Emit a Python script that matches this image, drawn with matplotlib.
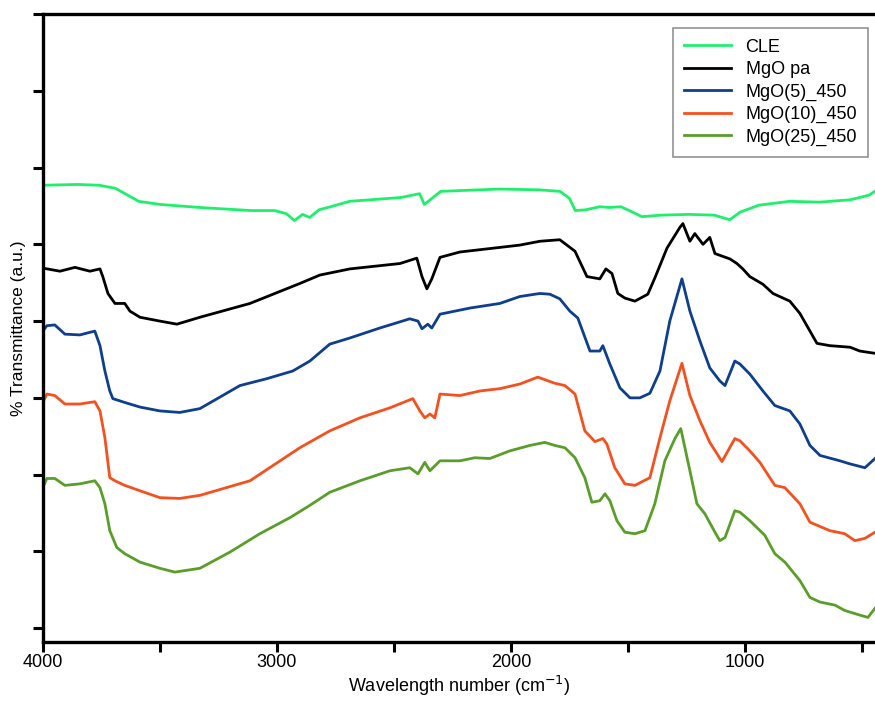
import matplotlib
matplotlib.use("Agg")
import matplotlib.pyplot as plt
from matplotlib.ticker import MultipleLocator, NullFormatter

plt.rcParams["font.family"] = ["Liberation Sans", "DejaVu Sans"]

# FTIR spectra, offset stacked (wavenumber in cm-1, transmittance in a.u.)
cle_wn = [4000, 3850, 3760, 3690, 3590, 3500, 3330, 3110, 3010, 2960, 2925, 2890,
          2860, 2820, 2770, 2690, 2470, 2390, 2370, 2345, 2300, 2220, 2050, 1880,
          1790, 1750, 1725, 1680, 1620, 1580, 1530, 1480, 1440, 1360, 1240, 1130,
          1065, 1020, 940, 810, 680, 550, 470, 445]
cle_t = [57.7, 57.8, 57.7, 57.3, 55.6, 55.2, 54.8, 54.4, 54.4, 54.0, 53.1, 53.9,
         53.5, 54.5, 54.9, 55.6, 56.1, 56.6, 55.2, 55.8, 56.9, 57.0, 57.2, 57.1,
         56.9, 56.0, 54.4, 54.5, 54.9, 54.8, 54.9, 54.2, 53.6, 53.8, 53.9, 53.8,
         53.2, 54.2, 55.1, 55.6, 55.5, 55.8, 56.4, 56.9]

mgo_wn = [4000, 3927, 3863, 3799, 3756, 3744, 3722, 3692, 3650, 3628, 3585, 3500,
          3427, 3329, 3115, 2902, 2816, 2688, 2474, 2402, 2380, 2359, 2338, 2303,
          2218, 2047, 1962, 1876, 1791, 1726, 1675, 1620, 1594, 1568, 1543, 1513,
          1470, 1415, 1385, 1333, 1278, 1265, 1235, 1214, 1179, 1150, 1128, 1064,
          1034, 1009, 979, 923, 880, 808, 765, 692, 637, 551, 509, 444]
mgo_t = [46.9, 46.5, 47.0, 46.5, 46.8, 45.8, 43.6, 42.3, 42.3, 41.3, 40.5, 40.0,
         39.6, 40.5, 42.3, 44.9, 46.0, 46.8, 47.5, 48.2, 45.8, 44.2, 45.5, 48.3,
         49.0, 49.6, 49.9, 50.4, 50.6, 49.1, 45.8, 45.5, 46.8, 46.2, 43.6, 43.0,
         42.6, 43.5, 45.6, 49.5, 52.2, 52.7, 50.4, 51.4, 50.0, 50.9, 48.8, 48.1,
         47.5, 46.8, 45.8, 44.8, 43.6, 42.6, 41.0, 37.1, 36.8, 36.6, 36.1, 35.8]

mgo5_wn = [4000, 3983, 3949, 3906, 3842, 3778, 3756, 3735, 3714, 3701, 3650, 3585,
           3500, 3415, 3329, 3158, 3043, 2932, 2859, 2774, 2688, 2560, 2432, 2397,
           2380, 2355, 2338, 2303, 2175, 2047, 1962, 1876, 1833, 1791, 1748, 1714,
           1662, 1620, 1607, 1577, 1534, 1491, 1449, 1406, 1363, 1321, 1269, 1235,
           1192, 1150, 1107, 1085, 1043, 1021, 979, 923, 872, 808, 765, 722, 679,
           594, 551, 487, 444]
mgo5_t = [38.7, 39.4, 39.5, 38.3, 38.2, 38.7, 36.8, 33.5, 30.9, 29.9, 29.4, 28.8,
          28.3, 28.1, 28.6, 31.6, 32.5, 33.5, 34.8, 37.0, 37.8, 39.1, 40.3, 40.0,
          39.0, 39.6, 39.1, 40.9, 41.7, 42.3, 43.2, 43.6, 43.5, 42.9, 41.3, 40.4,
          36.1, 36.1, 36.8, 34.4, 31.3, 30.0, 30.0, 30.6, 33.5, 40.0, 45.5, 41.3,
          37.4, 33.9, 32.2, 31.6, 34.8, 34.4, 33.1, 30.9, 29.0, 28.3, 26.6, 23.8,
          22.5, 21.8, 21.4, 20.9, 22.1]

mgo10_wn = [4000, 3983, 3949, 3906, 3842, 3778, 3756, 3735, 3714, 3692, 3650, 3585,
            3500, 3415, 3329, 3115, 2902, 2774, 2645, 2517, 2419, 2389, 2368, 2346,
            2325, 2303, 2218, 2132, 2047, 1962, 1885, 1812, 1769, 1726, 1684, 1641,
            1607, 1590, 1556, 1513, 1470, 1406, 1363, 1321, 1269, 1235, 1192, 1150,
            1098, 1043, 1021, 979, 936, 872, 829, 765, 722, 637, 573, 530, 487, 444]
mgo10_t = [29.4, 30.5, 30.3, 29.2, 29.2, 29.5, 28.3, 24.8, 19.6, 19.2, 18.6, 17.9,
           17.0, 16.9, 17.3, 19.2, 23.5, 25.7, 27.4, 28.7, 29.9, 28.3, 27.4, 27.9,
           27.4, 30.5, 30.3, 30.9, 31.2, 31.8, 32.7, 31.9, 31.6, 30.5, 25.7, 24.3,
           24.7, 24.0, 20.9, 18.8, 18.6, 19.6, 24.8, 29.6, 34.5, 30.3, 27.0, 24.2,
           21.7, 24.7, 24.4, 23.1, 21.6, 18.6, 18.3, 16.2, 13.8, 12.7, 12.3, 11.4,
           11.7, 12.5]

mgo25_wn = [4000, 3983, 3949, 3906, 3842, 3778, 3756, 3735, 3714, 3684, 3650, 3585,
            3500, 3436, 3329, 3201, 3073, 2944, 2859, 2774, 2645, 2517, 2432, 2397,
            2368, 2346, 2303, 2218, 2154, 2090, 2004, 1919, 1855, 1812, 1769, 1726,
            1684, 1654, 1620, 1598, 1577, 1547, 1513, 1470, 1427, 1385, 1342, 1299,
            1274, 1235, 1205, 1171, 1128, 1107, 1085, 1043, 1021, 979, 915, 872,
            829, 765, 722, 679, 615, 573, 509, 474, 444]
mgo25_t = [18.3, 19.5, 19.5, 18.6, 18.8, 19.2, 18.3, 16.2, 12.7, 10.5, 9.7, 8.6,
           7.8, 7.3, 7.8, 9.9, 12.3, 14.4, 16.0, 17.7, 19.2, 20.5, 20.9, 20.1,
           21.6, 20.5, 21.8, 21.8, 22.2, 22.1, 23.1, 23.8, 24.2, 23.8, 23.5, 22.2,
           19.6, 16.4, 16.6, 17.5, 16.6, 14.0, 12.5, 12.3, 12.7, 16.2, 21.8, 24.7,
           26.0, 20.5, 16.2, 14.9, 12.5, 11.4, 11.8, 15.3, 15.1, 14.0, 12.1, 9.7,
           8.6, 6.2, 4.0, 3.4, 3.0, 2.3, 1.7, 1.4, 2.6]

series = [
    ("CLE", cle_wn, cle_t, "#1ef06c"),
    ("MgO pa", mgo_wn, mgo_t, "black"),
    ("MgO(5)_450", mgo5_wn, mgo5_t, "#0e3f8e"),
    ("MgO(10)_450", mgo10_wn, mgo10_t, "#f4511e"),
    ("MgO(25)_450", mgo25_wn, mgo25_t, "#5a9e2a"),
]

fig = plt.figure(figsize=(8.75, 7.02), dpi=100)
ax = fig.add_axes([0.049, 0.0855, 0.951, 0.8945])

for label, wn, t, color in series:
    ax.plot(wn, t, color=color, linewidth=2.0, label=label)

ax.set_xlim(4000, 444)
ax.set_ylim(-1.8, 80)

ax.xaxis.set_major_locator(MultipleLocator(1000))
ax.xaxis.set_minor_locator(MultipleLocator(500))
ax.xaxis.set_minor_formatter(NullFormatter())
ax.yaxis.set_major_locator(MultipleLocator(10))
ax.set_yticklabels([])

ax.tick_params(axis="both", which="both", direction="out", length=7, width=2.2,
               labelsize=13, colors="black")
ax.tick_params(axis="x", which="both", top=False, pad=2)

ax.spines["right"].set_visible(False)
for side in ("left", "bottom", "top"):
    ax.spines[side].set_linewidth(2.4)

ax.set_xlabel("Wavelength number (cm$^{-1}$)", fontsize=13, labelpad=2)
ax.set_ylabel("% Transmittance (a.u.)", fontsize=12.5)
ax.yaxis.set_label_coords(-0.020, 0.5)

leg = ax.legend(loc="upper right", bbox_to_anchor=(0.9916, 0.978), borderaxespad=0,
                fontsize=13, frameon=True, fancybox=False, handlelength=2.6,
                labelspacing=0.3, borderpad=0.6, handletextpad=0.8)
leg.get_frame().set_edgecolor("#777777")
leg.get_frame().set_linewidth(1.2)

fig.savefig("out.png", dpi=100)
